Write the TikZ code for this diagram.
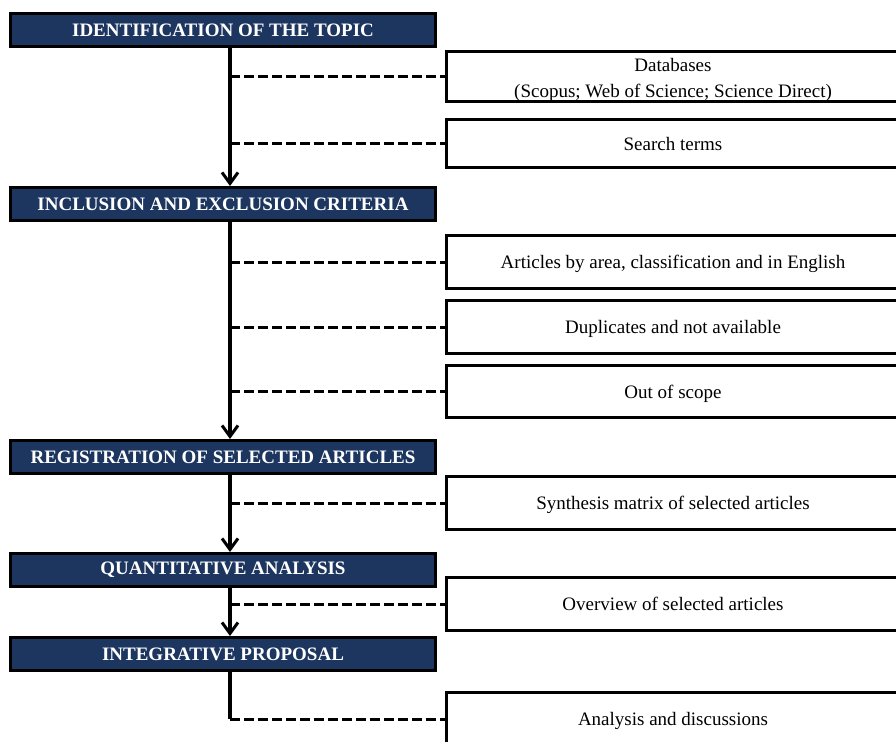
\documentclass[tikz,border=0pt]{standalone}
\usepackage{fontspec}
\setmainfont{Liberation Serif}
\usepackage{tikz}
\usetikzlibrary{positioning}
\usetikzlibrary{arrows.meta}
\definecolor{navy}{RGB}{29,54,96}
\tikzset{
phase/.style={ % Sets the properties for each stage box
rectangle, draw=black, line width=3pt,
fill=navy, text=white, inner sep=0pt,
minimum width=425pt, minimum height=33pt,
font=\bfseries\fontsize{19}{22}\selectfont},
task/.style={ % Sets the properties for each activity box
rectangle, draw=black, line width=3pt,
fill=white, inner sep=0pt, align=center,
minimum width=453pt, minimum height=52.5pt, text depth=0pt,
font=\fontsize{19}{26}\selectfont},
flow/.style={ % Solid spine with open arrow head
draw, line width=3.5pt,
-{Straight Barb[length=11pt,width=16pt,line width=3pt]}},
spine line/.style={draw, line width=3.5pt},
link/.style={ % Dashed branch to an activity
draw, line width=3pt, dash pattern=on 10pt off 4pt}}

\begin{document}
\begin{tikzpicture}[x=1pt,y=-1pt]
\clip (0,0) rectangle (896,741);
\coordinate (spine) at (230,0);
\node[phase] (p1) at (223,30) {IDENTIFICATION OF THE TOPIC};
\node[phase] (p2) at (223,204) {INCLUSION AND EXCLUSION CRITERIA};
\node[phase] (p3) at (223,457) {REGISTRATION OF SELECTED ARTICLES};
\node[phase] (p4) at (223,570) {QUANTITATIVE ANALYSIS};
\node[phase] (p5) at (223,654) {INTEGRATIVE PROPOSAL};
\node[task, minimum height=50.5pt, text height=42pt] (t1) at (673,76.5) {Databases\\(Scopus; Web of Science; Science Direct)};
\node[task, minimum height=48.5pt] (t2) at (673,143.5) {Search terms};
\node[task] (t3) at (673,262) {Articles by area, classification and in English};
\node[task] (t4) at (673,327) {Duplicates and not available};
\node[task] (t5) at (673,391.5) {Out of scope};
\node[task] (t6) at (673,503) {Synthesis matrix of selected articles};
\node[task] (t7) at (673,604) {Overview of selected articles};
\node[task] (t8) at (673,719) {Analysis and discussions};
% spine
\draw[flow] (p1.south -| spine) -- (p2.north -| spine);
\draw[flow] (p2.south -| spine) -- (p3.north -| spine);
\draw[flow] (p3.south -| spine) -- (p4.north -| spine);
\draw[flow] (p4.south -| spine) -- (p5.north -| spine);
\draw[spine line] (p5.south -| spine) -- (t8.west -| spine);
% branches
\foreach \t in {t1,t2,t3,t4,t5,t6,t7,t8}
\draw[link] (\t.west -| spine) -- (\t.west);
\end{tikzpicture}
\end{document}
